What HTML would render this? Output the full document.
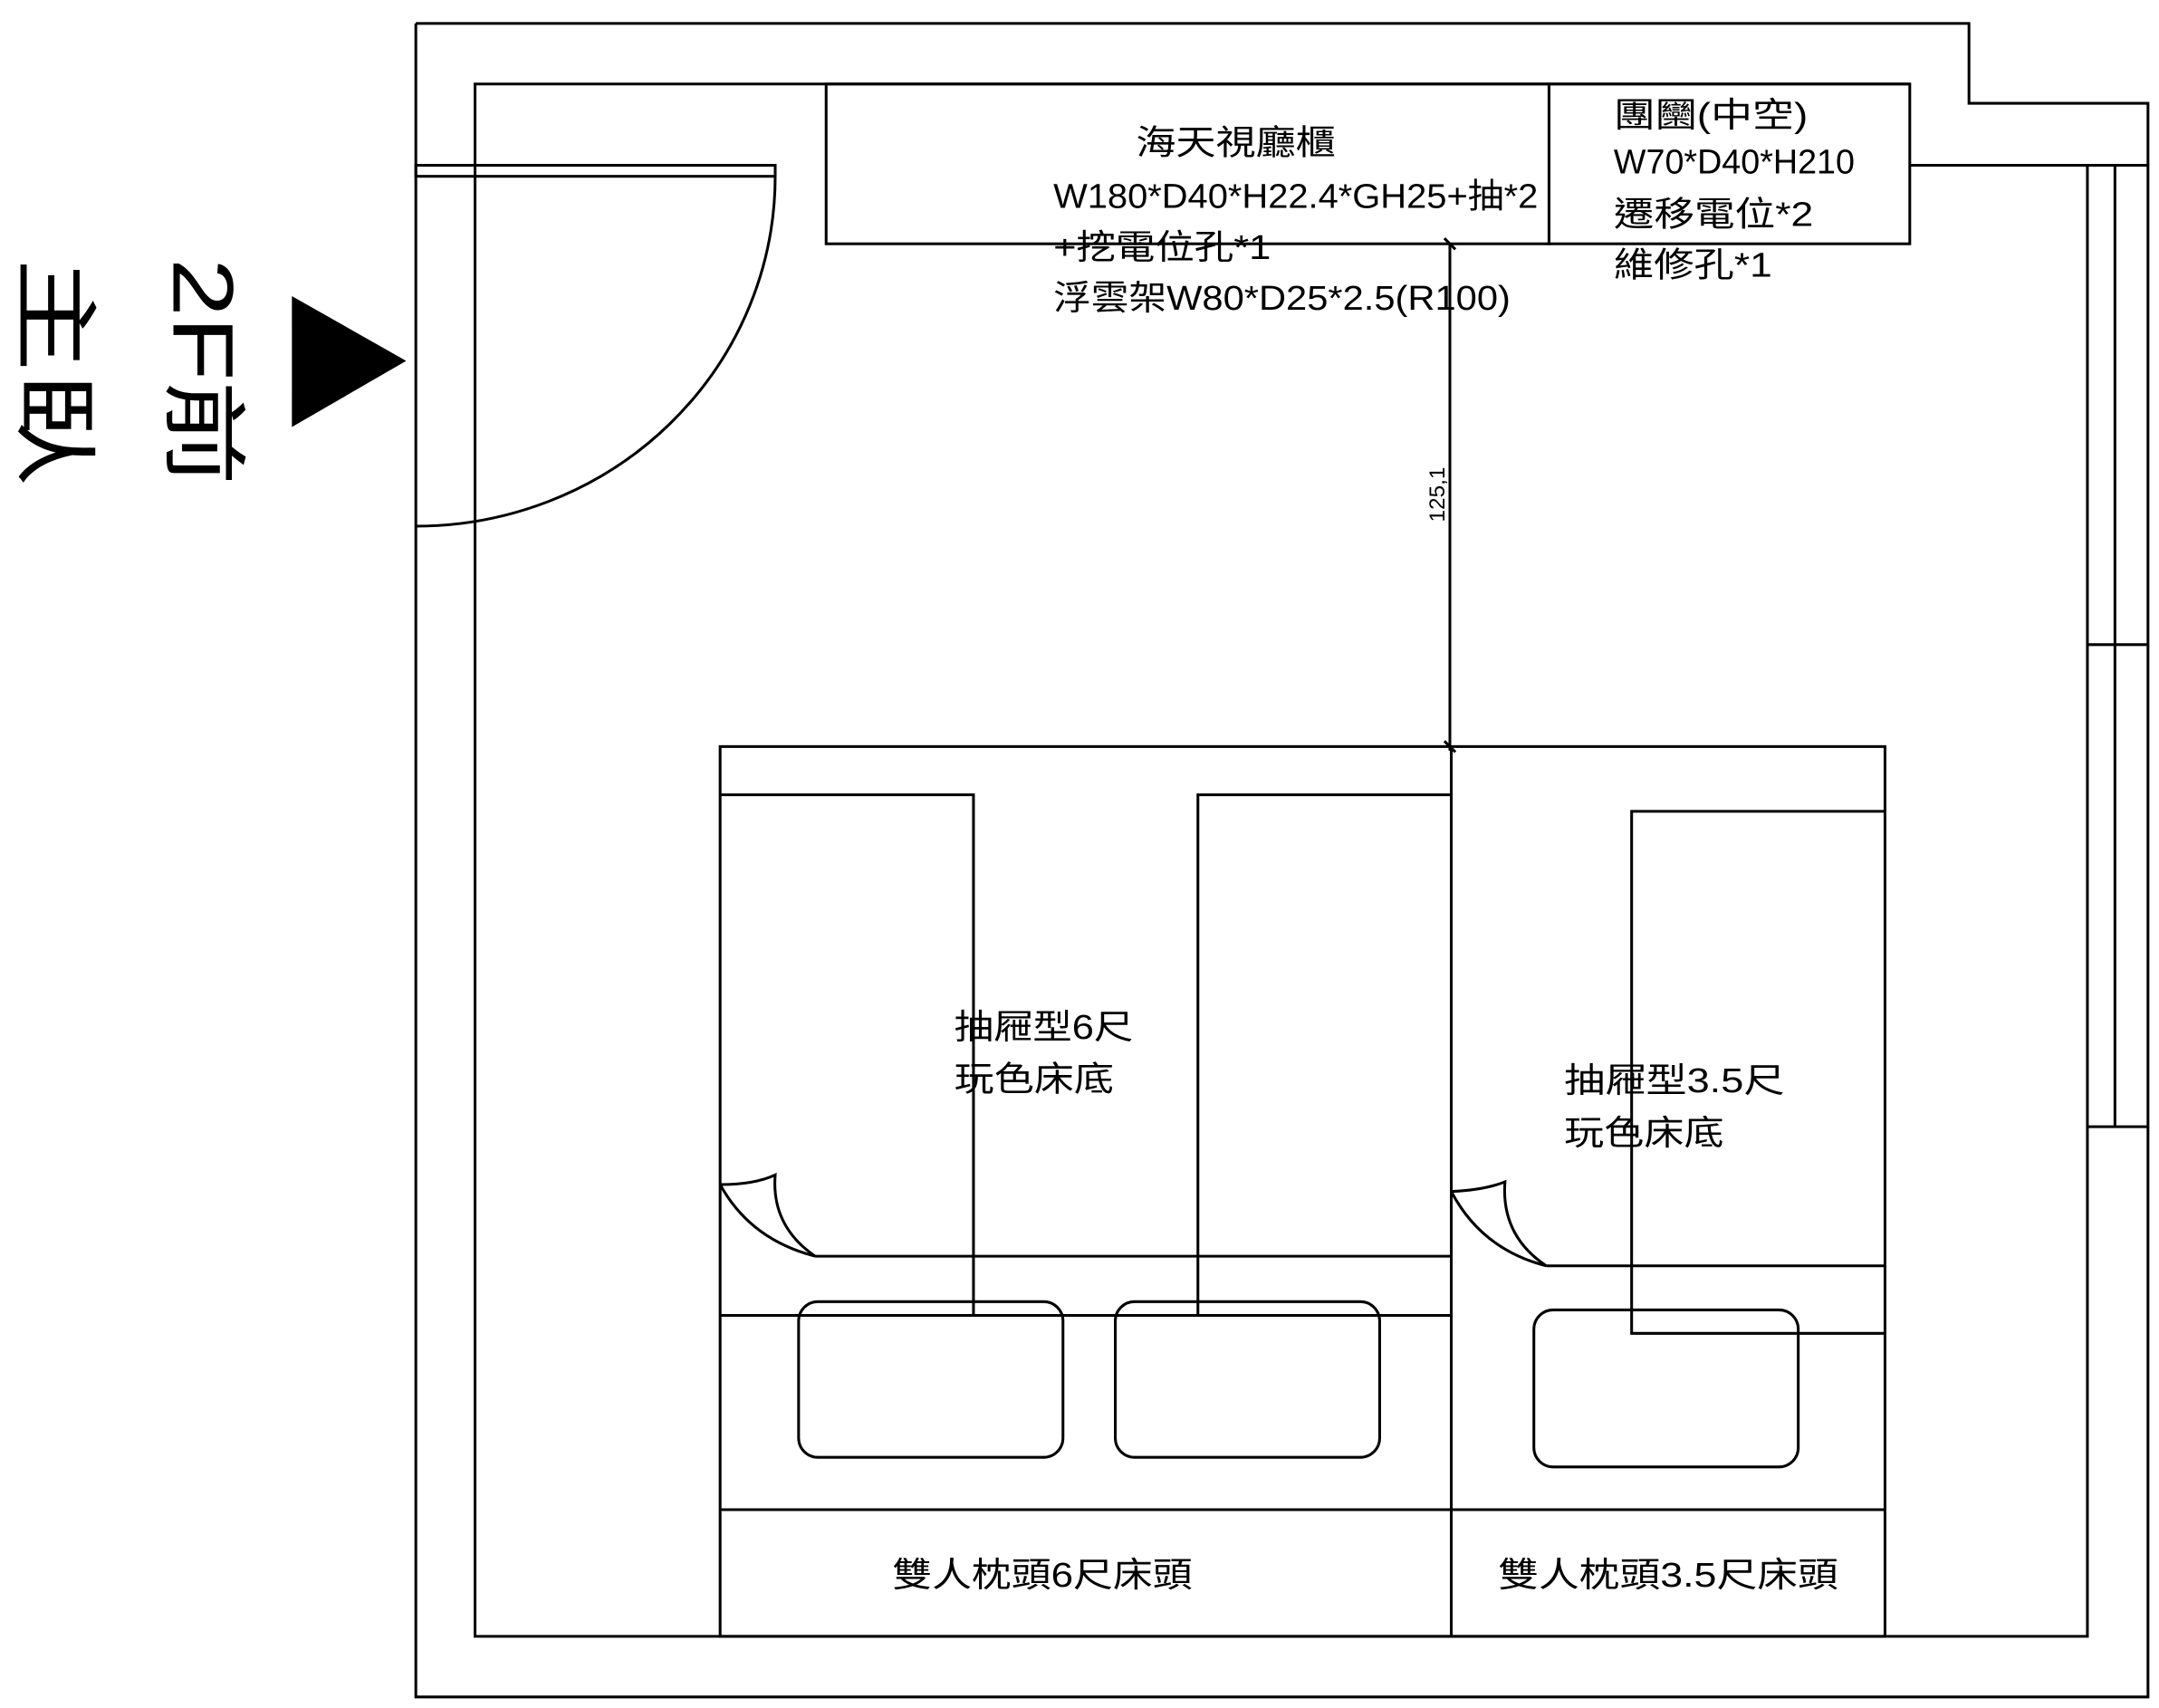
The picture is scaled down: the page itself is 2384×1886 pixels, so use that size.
<!DOCTYPE html>
<html><head><meta charset="utf-8"><style>
html,body{margin:0;padding:0;background:#fff;}
svg{display:block;}
text{font-family:"Liberation Sans","Noto Sans CJK TC",sans-serif;fill:#000;}
</style></head><body>
<svg width="2384" height="1886" viewBox="0 0 1568 1240" preserveAspectRatio="none" xmlns="http://www.w3.org/2000/svg">
<g fill="none" stroke="#000" stroke-width="2">
<polyline points="302,17 1430,17 1430,75 1560,75 1560,1232 302,1232 302,17"/>
<polyline points="1387,61 345,61 345,1188 1516,1188 1516,120 1387,120"/>
<line x1="1516" y1="120" x2="1560" y2="120"/>
<line x1="1536" y1="120" x2="1536" y2="818"/>
<line x1="1516" y1="468" x2="1560" y2="468"/>
<line x1="1516" y1="818" x2="1560" y2="818"/>
<rect x="302" y="120" width="261" height="8"/>
<path d="M563,128 A261,254 0 0 1 302,382"/>
<rect x="600" y="61" width="525" height="116"/>
<rect x="1125" y="61" width="262" height="116"/>
<line x1="1053" y1="177" x2="1053" y2="545"/>
<line x1="1049" y1="173" x2="1057" y2="181"/>
<line x1="1049" y1="538" x2="1057" y2="546"/>
<rect x="523" y="542" width="846" height="646"/>
<line x1="1054" y1="542" x2="1054" y2="1188"/>
<line x1="523" y1="1096" x2="1369" y2="1096"/>
<polyline points="523,577 707,577 707,955"/>
<polyline points="1054,577 870,577 870,955"/>
<line x1="523" y1="955" x2="1054" y2="955"/>
<line x1="592" y1="912" x2="1054" y2="912"/>
<path d="M523,860 Q545,900 592,912"/>
<path d="M523,860 Q548,860 563,853 Q560,890 592,912"/>
<rect x="580" y="945" width="192" height="113" rx="14"/>
<rect x="810" y="945" width="192" height="113" rx="14"/>
<polyline points="1369,589 1185,589 1185,968 1369,968"/>
<line x1="1123" y1="919" x2="1369" y2="919"/>
<path d="M1054,865 Q1076,907 1123,919"/>
<path d="M1054,865 Q1078,864 1093,858 Q1090,897 1123,919"/>
<rect x="1114" y="951" width="192" height="114" rx="14"/>
</g>
<polygon points="212,215 212,310 295,262" fill="#000"/>
<text transform="translate(126,270) rotate(90)" font-size="62" text-anchor="middle" textLength="165" lengthAdjust="spacingAndGlyphs">2F前</text>
<text transform="translate(18,270) rotate(90)" font-size="62" text-anchor="middle" textLength="165" lengthAdjust="spacingAndGlyphs">主臥</text>
<text transform="translate(1049,359) rotate(-90)" font-size="16" text-anchor="middle">125,1</text>
<g font-size="25">
<text x="825" y="112" textLength="145" lengthAdjust="spacingAndGlyphs">海天視廳櫃</text>
<text x="765" y="151" textLength="352" lengthAdjust="spacingAndGlyphs">W180*D40*H22.4*GH25+抽*2</text>
<text x="765" y="188" textLength="158" lengthAdjust="spacingAndGlyphs">+挖電位孔*1</text>
<text x="765" y="225" textLength="332" lengthAdjust="spacingAndGlyphs">浮雲架W80*D25*2.5(R100)</text>
<text x="1172" y="92" textLength="141" lengthAdjust="spacingAndGlyphs">團圞(中空)</text>
<text x="1172" y="126" textLength="175" lengthAdjust="spacingAndGlyphs">W70*D40*H210</text>
<text x="1172" y="164" textLength="145" lengthAdjust="spacingAndGlyphs">遷移電位*2</text>
<text x="1172" y="201" textLength="115" lengthAdjust="spacingAndGlyphs">維修孔*1</text>
<text x="693" y="754" textLength="130" lengthAdjust="spacingAndGlyphs">抽屜型6尺</text>
<text x="693" y="792" textLength="116" lengthAdjust="spacingAndGlyphs">玩色床底</text>
<text x="1136" y="793" textLength="160" lengthAdjust="spacingAndGlyphs">抽屜型3.5尺</text>
<text x="1136" y="831" textLength="116" lengthAdjust="spacingAndGlyphs">玩色床底</text>
<text x="648" y="1152" textLength="218" lengthAdjust="spacingAndGlyphs">雙人枕頭6尺床頭</text>
<text x="1088" y="1152" textLength="247" lengthAdjust="spacingAndGlyphs">雙人枕頭3.5尺床頭</text>
</g>
</svg>
</body></html>
